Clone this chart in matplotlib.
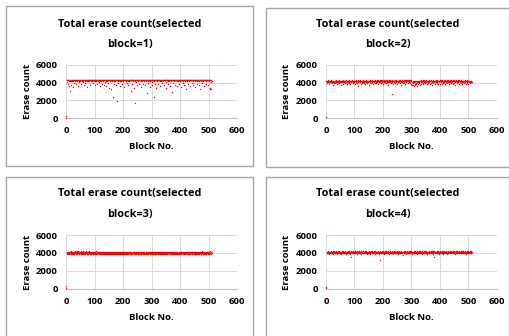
import matplotlib
matplotlib.use("Agg")
import matplotlib.pyplot as plt
from matplotlib.patches import Rectangle

plt.rcParams["font.family"] = ["Open Sans", "DejaVu Sans"]
plt.rcParams["font.weight"] = "bold"

# erase count per block (blocks 0..511)
erase_block1 = [
    40, 180, 4260, 4310, 4120, 4280, 3900, 4300, 4250, 4190, 4290, 3650, 4270, 4310, 3050, 4240,
    4300, 4180, 3720, 4260, 4290, 4230, 4310, 3480, 4270, 4200, 4300, 4260, 3950, 4280, 4320, 4150,
    4290, 4240, 4300, 3820, 4270, 4310, 4220, 4280, 4190, 4300, 3600, 4260, 4320, 4240, 4290, 4100,
    4270, 4310, 4230, 3880, 4300, 4260, 4290, 4180, 4320, 4250, 4030, 4280, 4300, 4210, 3700, 4290,
    4260, 4310, 4240, 4290, 3960, 4300, 4270, 4330, 4200, 4280, 4310, 3550, 4260, 4300, 4230, 4290,
    4320, 4180, 4270, 4300, 4250, 3790, 4310, 4280, 4220, 4290, 4300, 4140, 4270, 4320, 3920, 4260,
    4300, 4240, 4290, 4310, 3680, 4270, 4230, 4300, 4280, 4160, 4310, 4250, 4290, 3850, 4300, 4270,
    4220, 4310, 4280, 4050, 4300, 4260, 4290, 3580, 4320, 4240, 4270, 4300, 4190, 4280, 3900, 4310,
    4250, 4290, 4300, 4230, 3760, 4280, 4310, 4260, 4300, 4120, 4270, 4290, 3640, 4310, 4240, 4280,
    4300, 4210, 4290, 4320, 3990, 4260, 4300, 4280, 3450, 4270, 4310, 4240, 4290, 3300, 4300, 4260,
    4280, 4310, 4170, 4290, 4250, 2400, 4300, 4270, 3870, 4310, 4240, 4290, 4300, 4200, 3700, 4280,
    4310, 4260, 4290, 1900, 4300, 4230, 4280, 4310, 3950, 4270, 4300, 4250, 4290, 4140, 4310, 3600,
    4270, 4300, 4240, 4290, 4310, 3820, 4260, 4300, 4280, 4220, 4310, 4290, 3520, 4270, 4300, 4250,
    4290, 4310, 4180, 4280, 4300, 3930, 4260, 4310, 4240, 4290, 4300, 3680, 4270, 4320, 4230, 4290,
    4300, 4260, 4310, 4280, 3100, 4290, 4250, 4300, 3800, 4270, 4310, 4220, 4290, 4300, 3400, 4260,
    4310, 4280, 4240, 1650, 4300, 4270, 4290, 4110, 4310, 3750, 4260, 4300, 4280, 4230, 4290, 4310,
    3900, 4270, 4300, 4250, 4290, 4310, 3560, 4280, 4240, 4300, 4270, 4190, 4310, 4290, 3840, 4260,
    4300, 4280, 4230, 4310, 4290, 3700, 4270, 4300, 4250, 4310, 4160, 4290, 2850, 4280, 4300, 4240,
    4310, 3960, 4270, 4290, 4300, 4220, 4310, 3500, 4280, 4260, 4300, 4290, 4130, 4310, 4250, 3780,
    4290, 4300, 4270, 4310, 2400, 4240, 4290, 4300, 3900, 4280, 4310, 4260, 4300, 3350, 4270, 4290,
    4310, 4230, 4300, 4280, 3860, 4290, 4310, 4250, 4300, 4170, 4270, 3620, 4310, 4290, 4240, 4300,
    4280, 4310, 3940, 4260, 4300, 4290, 4220, 4310, 3700, 4270, 4300, 4250, 4290, 4310, 4100, 4280,
    3450, 4300, 4260, 4310, 4290, 4240, 3830, 4300, 4280, 4310, 4200, 4270, 4290, 3580, 4300, 4260,
    4310, 4280, 4240, 4300, 3000, 4290, 4310, 4260, 3920, 4300, 4270, 4230, 4290, 4310, 3760, 4280,
    4300, 4250, 4290, 4310, 4180, 4270, 3640, 4300, 4280, 4310, 4240, 4290, 3880, 4300, 4260, 4310,
    4280, 4220, 4300, 3530, 4290, 4310, 4250, 4270, 4300, 3970, 4280, 4310, 4240, 4290, 3700, 4300,
    4260, 4310, 4290, 4150, 4300, 3300, 4270, 4310, 4240, 4290, 4300, 3850, 4280, 4310, 4260, 4300,
    4230, 4290, 3620, 4310, 4270, 4300, 4250, 4290, 4310, 3940, 4280, 4300, 4200, 4310, 4260, 3760,
    4290, 4300, 4310, 4240, 4280, 3500, 4300, 4270, 4310, 4290, 4160, 4300, 3880, 4260, 4310, 4280,
    4300, 4240, 4290, 3680, 4310, 4270, 3300, 4300, 4250, 4290, 4310, 4210, 4280, 3920, 4300, 4260,
    4310, 4290, 4230, 4300, 3580, 4280, 4310, 4260, 4290, 4300, 4140, 3820, 4310, 4270, 4300, 4250,
    4290, 4310, 3700, 4280, 4300, 4240, 4310, 4200, 3300, 4290, 4270, 3350, 3300, 4100, 4260, 4180,
]

erase_block2 = [
    80, 4150, 4230, 4080, 4190, 3950, 4260, 4120, 4180, 4050, 4210, 4140, 3880, 4240, 4100, 4170,
    4220, 4020, 4160, 4250, 3920, 4130, 4200, 4090, 4180, 3700, 4240, 4110, 4160, 4010, 4230, 4150,
    3980, 4190, 4080, 4260, 4140, 4200, 3850, 4170, 4120, 4230, 4060, 4180, 3940, 4250, 4100, 4160,
    4210, 4030, 4170, 3750, 4240, 4130, 4190, 4070, 4220, 4150, 3900, 4200, 4110, 4260, 4040, 4180,
    4140, 4230, 3960, 4160, 4200, 4090, 4250, 4120, 3820, 4190, 4170, 4060, 4240, 4130, 4210, 3990,
    4180, 4100, 4260, 4150, 3870, 4220, 4080, 4200, 4160, 4030, 4250, 4140, 4190, 3930, 4230, 4120,
    4170, 4210, 4050, 4240, 4110, 3800, 4190, 4150, 4260, 4070, 4200, 4130, 3960, 4220, 4180, 4090,
    4250, 4140, 3620, 4200, 4160, 4230, 4020, 4180, 4120, 4260, 3890, 4150, 4210, 4080, 4240, 4170,
    4010, 4190, 4130, 4250, 3940, 4170, 4220, 4100, 4200, 4150, 3840, 4230, 4060, 4180, 4260, 4120,
    4200, 3970, 4160, 4240, 4090, 4210, 4140, 3760, 4190, 4250, 4110, 4170, 4040, 4230, 4150, 3910,
    4220, 4130, 4260, 4080, 4180, 4200, 3860, 4160, 4240, 4120, 4210, 4000, 4190, 4270, 4140, 4100,
    4230, 3950, 4170, 4250, 4110, 4200, 4150, 4280, 3880, 4190, 4240, 4060, 4220, 4160, 4300, 4130,
    4180, 4260, 3990, 4210, 4140, 4280, 4090, 4230, 3830, 4170, 4250, 4120, 4200, 4270, 4050, 4190,
    4240, 4150, 4290, 3920, 4200, 4130, 4260, 4180, 4070, 4230, 3780, 4160, 4210, 4270, 4110, 4190,
    4250, 4040, 4200, 4140, 3960, 4230, 2700, 4170, 4260, 4100, 4190, 3870, 4240, 4150, 4210, 4080,
    4180, 4250, 3930, 4160, 4220, 4120, 4270, 4060, 4200, 3810, 4150, 4240, 4190, 4030, 4230, 4170,
    4110, 4260, 3960, 4200, 4140, 4250, 4080, 4190, 3700, 4230, 4160, 4270, 4120, 4210, 3940, 4180,
    4250, 4090, 4220, 4150, 4280, 3860, 4190, 4240, 4130, 4260, 4020, 4200, 4170, 4290, 3910, 4230,
    4160, 4270, 4100, 4220, 4300, 3980, 4190, 4250, 4140, 4280, 3850, 4210, 4170, 3680, 4060, 3760,
    4120, 3720, 4180, 3950, 4050, 3650, 4140, 3800, 4090, 4200, 3700, 4010, 4160, 3880, 4110, 3640,
    4170, 4040, 4210, 3820, 4130, 4230, 3960, 4180, 4090, 4240, 3780, 4150, 4200, 4020, 4250, 3900,
    4190, 4110, 4230, 3990, 4160, 4260, 3850, 4200, 4130, 4250, 4070, 4180, 3930, 4220, 4150, 4270,
    4040, 4200, 3800, 4170, 4240, 4120, 4210, 3950, 4260, 4150, 4080, 4230, 3870, 4190, 4140, 4250,
    4010, 4220, 4170, 3760, 4240, 4100, 4200, 4160, 3920, 4250, 4130, 4210, 4060, 4190, 3830, 4230,
    4150, 4270, 4080, 4200, 3970, 4180, 4250, 4120, 4220, 3860, 4160, 4240, 4030, 4210, 4170, 4280,
    3900, 4190, 4140, 4260, 4090, 4230, 3800, 4170, 4250, 4110, 4200, 3950, 4240, 4150, 4290, 4060,
    4210, 4180, 3880, 4260, 4130, 4230, 4020, 4190, 4300, 3940, 4170, 4250, 4100, 4220, 4160, 3830,
    4240, 4120, 4280, 4050, 4200, 4170, 3910, 4260, 4140, 4230, 4080, 4190, 4300, 3860, 4210, 4150,
    4270, 3990, 4180, 4240, 4110, 4220, 3780, 4200, 4160, 4290, 4040, 4230, 4130, 3920, 4250, 4170,
    4090, 4210, 4260, 3850, 4190, 4140, 4240, 4020, 4200, 4170, 3960, 4250, 4110, 4230, 3800, 4180,
    4220, 4060, 4160, 4240, 3930, 4200, 4130, 4270, 4080, 4190, 3870, 4230, 4150, 4210, 4010, 4250,
    4120, 4180, 3900, 4230, 4150, 4060, 4200, 4170, 3960, 4240, 4110, 4190, 4030, 4220, 4140, 4080,
]

erase_block3 = [
    60, 280, 4050, 3930, 4120, 3980, 4080, 3870, 4150, 4010, 3950, 4100, 3900, 4060, 4130, 3990,
    4070, 3920, 4180, 4030, 3960, 4110, 3880, 4090, 4160, 4000, 3940, 4140, 4050, 3860, 4120, 3970,
    4200, 4080, 3910, 4150, 4020, 3990, 4170, 3890, 4100, 4060, 3950, 4190, 4030, 3920, 4130, 4070,
    3980, 4160, 4040, 3900, 4110, 4180, 3960, 4090, 4020, 3870, 4140, 4050, 3940, 4200, 4010, 3930,
    4120, 4070, 3890, 4150, 4000, 4090, 3950, 4170, 4030, 3910, 4100, 3980, 4140, 4060, 3870, 4110,
    4040, 3960, 4180, 4020, 3920, 4130, 4070, 3990, 4160, 3900, 4080, 4010, 3950, 4120, 4050, 3880,
    4100, 4030, 3940, 4150, 3990, 4070, 3860, 4110, 4040, 3970, 4170, 3910, 4060, 4000, 3930, 4130,
    3960, 4080, 4020, 3880, 4120, 4050, 3950, 4140, 3990, 3900, 4090, 4030, 3870, 4110, 4000, 3940,
    4070, 3920, 4130, 3980, 4040, 3890, 4100, 4010, 3950, 4150, 3930, 4060, 3870, 4020, 4120, 3960,
    4080, 3900, 4030, 4140, 3970, 3880, 4090, 4010, 3940, 4110, 3860, 4050, 4000, 3920, 4130, 3990,
    4040, 3950, 4100, 3870, 4070, 4020, 3930, 4120, 3980, 3890, 4060, 4000, 3940, 4150, 3910, 4030,
    3970, 4090, 3880, 4050, 4130, 3960, 4010, 3900, 4080, 4040, 3920, 4110, 3990, 3870, 4060, 4020,
    3940, 4140, 4000, 3910, 4070, 3980, 4100, 3860, 4030, 4120, 3950, 4050, 3890, 4090, 4010, 3930,
    4130, 3970, 4040, 3880, 4080, 4020, 3920, 4110, 3990, 4060, 3900, 4150, 4000, 3950, 4070, 3870,
    4030, 4100, 3940, 4010, 3890, 4120, 3960, 4050, 4000, 3910, 4140, 3980, 4080, 3930, 4020, 3860,
    4090, 4040, 3920, 4130, 3970, 4060, 3880, 4100, 4010, 3950, 4070, 3900, 4150, 3990, 4030, 3940,
    4110, 3870, 4050, 4000, 3930, 4120, 3980, 4080, 3890, 4040, 4140, 3960, 4020, 3910, 4090, 4010,
    3950, 4060, 3880, 4130, 3990, 4030, 3920, 4100, 4050, 3870, 4080, 3970, 4150, 3940, 4000, 4110,
    3900, 4070, 4020, 3960, 4120, 3890, 4040, 3980, 4090, 3930, 4010, 4140, 3870, 4060, 3950, 4100,
    4000, 3910, 4130, 4030, 3940, 4080, 3880, 4050, 3990, 4110, 3920, 4070, 3970, 3860, 4120, 4010,
    3960, 4090, 3900, 4040, 4150, 3930, 4060, 3980, 4000, 3890, 4100, 4030, 3950, 4130, 3910, 4070,
    4020, 3870, 4110, 3970, 4050, 3940, 4140, 4000, 3900, 4080, 3990, 4120, 3880, 4040, 3960, 4090,
    3930, 4150, 4010, 3890, 4070, 4030, 3950, 4100, 3870, 4060, 4000, 3920, 4130, 3980, 4050, 3910,
    4120, 3990, 4040, 3880, 4090, 3960, 4020, 4140, 3900, 4070, 3940, 4110, 4010, 3870, 4060, 4000,
    3950, 4100, 3920, 4030, 4150, 3980, 4080, 3890, 4050, 4010, 3930, 4130, 3970, 4070, 3900, 4040,
    4090, 3940, 4120, 4000, 3880, 4060, 4020, 3960, 4140, 3910, 4080, 3990, 4030, 3870, 4110, 4050,
    3970, 4130, 3900, 4040, 4090, 3950, 4010, 4150, 3920, 4070, 3980, 4100, 3890, 4060, 4020, 3940,
    4110, 4000, 3930, 4080, 3870, 4140, 4030, 3960, 4050, 3910, 4120, 3990, 4070, 3950, 4020, 4160,
    3900, 4060, 4010, 3940, 4130, 3980, 4090, 3880, 4040, 4150, 3920, 4070, 4000, 3970, 4110, 3890,
    4050, 3960, 4140, 4020, 3910, 4080, 3990, 4120, 3930, 4060, 4030, 3870, 4100, 3950, 4170, 4010,
    3940, 4090, 4040, 3900, 4130, 3980, 4070, 3920, 4160, 4000, 3960, 4110, 3890, 4050, 4140, 3970,
    4080, 4020, 3930, 4150, 3990, 4060, 3910, 4120, 4030, 3950, 4180, 4000, 4070, 3940, 4100, 4040,
]

erase_block4 = [
    100, 250, 4110, 4020, 4150, 3960, 4080, 4190, 4040, 3990, 4130, 4070, 3920, 4160, 4010, 4100,
    4050, 4180, 3950, 4090, 4140, 4030, 3980, 4200, 4060, 4110, 3930, 4170, 4000, 4120, 4080, 3970,
    4150, 4040, 4190, 3990, 4100, 4060, 3940, 4130, 4020, 4180, 4070, 3960, 4140, 4090, 4010, 4200,
    3980, 4120, 4050, 4160, 3930, 4080, 4030, 4170, 4110, 3990, 4060, 4150, 4000, 4190, 3950, 4100,
    4070, 4140, 4010, 3970, 4180, 4050, 4120, 3940, 4090, 4160, 4030, 4080, 3990, 4130, 4200, 4040,
    3960, 4110, 4170, 4020, 4070, 3930, 4150, 3600, 4100, 4190, 4000, 4060, 4140, 3980, 4120, 4030,
    4180, 4090, 3950, 4130, 4050, 4200, 4010, 4160, 3970, 4080, 4120, 4040, 4190, 3940, 4100, 4060,
    4020, 4150, 4080, 3990, 4170, 4110, 3960, 4030, 4140, 4070, 4200, 3930, 4090, 4160, 4000, 4120,
    4060, 3980, 4190, 4040, 4100, 4150, 3950, 4080, 4010, 4170, 4120, 3970, 4050, 4180, 4090, 3940,
    4130, 4030, 4160, 3990, 4070, 4110, 4200, 3960, 4140, 4020, 4090, 4150, 3930, 4060, 4180, 4100,
    4000, 4120, 4050, 4190, 3950, 4080, 4140, 4030, 3980, 4170, 4100, 4060, 4200, 3940, 4110, 4040,
    4160, 3990, 4090, 4130, 4020, 4180, 3960, 4070, 4150, 4010, 4110, 3930, 4190, 4050, 3200, 4080,
    4120, 3970, 4040, 4170, 4100, 3950, 4160, 4030, 4080, 4190, 3990, 4140, 4060, 3920, 4110, 4180,
    4010, 4150, 4070, 3980, 4200, 4040, 4120, 3960, 4090, 4170, 4030, 4130, 3940, 4100, 4060, 4190,
    3990, 4140, 4080, 4020, 4160, 3950, 4110, 4050, 4180, 4000, 4130, 4070, 3930, 4190, 4040, 4100,
    4150, 3970, 4060, 4200, 4010, 4120, 4090, 3960, 4170, 4030, 4140, 3990, 4080, 4160, 3940, 4110,
    4050, 4180, 4020, 4130, 3980, 4100, 4190, 4040, 4070, 3950, 4160, 4120, 4000, 3780, 4140, 4080,
    4030, 4170, 3960, 4110, 4090, 4200, 3990, 4150, 4060, 4130, 3930, 4190, 4020, 4100, 4160, 4050,
    3970, 4120, 4180, 4040, 4080, 3950, 4140, 4010, 4170, 4100, 3990, 4060, 4200, 3940, 4130, 4070,
    4110, 4020, 4160, 3980, 4190, 4050, 4090, 4140, 3960, 4030, 4180, 4120, 4000, 4150, 3930, 4080,
    4170, 4040, 3990, 4130, 4070, 4200, 3950, 4100, 4160, 4010, 4060, 4190, 3970, 4120, 4080, 4140,
    3940, 4090, 4180, 4030, 4150, 3980, 4110, 4060, 4200, 4000, 4130, 3960, 4170, 4050, 4100, 4020,
    4190, 3930, 4080, 4140, 4010, 4160, 4070, 3990, 4120, 4180, 4040, 3950, 4100, 4150, 4030, 4200,
    3970, 4110, 4060, 4190, 4000, 4130, 4080, 3940, 4170, 4050, 4150, 4210, 3600, 4120, 4020, 4160,
    4090, 3980, 4140, 4070, 4200, 3950, 4110, 4030, 4180, 4100, 3990, 4160, 4050, 4130, 3930, 4080,
    4190, 4040, 4120, 3970, 4150, 4060, 4010, 4180, 4090, 3940, 4140, 4200, 4020, 4100, 4170, 3990,
    4070, 4130, 3960, 4160, 4050, 4110, 4190, 4000, 4080, 4140, 3930, 4170, 4040, 4120, 4060, 3980,
    4150, 4020, 4190, 4090, 3950, 4130, 4070, 4180, 4010, 4100, 4160, 3970, 4050, 4200, 4030, 4120,
    3990, 4170, 4060, 4140, 4080, 3940, 4110, 4190, 4030, 4150, 4000, 4090, 4180, 3960, 4130, 4070,
    4100, 4050, 4200, 3980, 4120, 4160, 4020, 4080, 3950, 4170, 4110, 4040, 4190, 4000, 4140, 4060,
    4180, 3970, 4090, 4150, 4030, 4130, 4190, 3990, 4070, 4160, 4010, 4120, 3940, 4100, 4170, 4050,
    4080, 4140, 4000, 4190, 4060, 3960, 4150, 4110, 4020, 4180, 4090, 3980, 4130, 4050, 4170, 4100,
]

panels = [erase_block1, erase_block2, erase_block3, erase_block4]
titles = ["block=1)", "block=2)", "block=3)", "block=4)"]
x_ticks = [0, 100, 200, 300, 400, 500, 600]
y_ticks = [0, 2000, 4000, 6000]

W, H = 510, 336
fig = plt.figure(figsize=(W / 100, H / 100), dpi=100)

# panel frames (px: left, top, right, bottom) and plot areas (px)
frames = [(6, 6, 253, 166), (266, 8, 509, 167), (6, 177, 253, 340), (266, 177, 509, 340)]
areas = [(66, 65, 237, 118), (326, 65, 497, 118), (66, 235, 237, 289), (326, 235, 497, 289)]
title_y = [(25, 44), (24, 45), (194, 215), (194, 215)]

for i, vals in enumerate(panels):
    l, t, r, b = frames[i]
    fig.patches.append(Rectangle((l / W, 1 - b / H), (r - l) / W, (b - t) / H,
                                 transform=fig.transFigure, fill=False,
                                 edgecolor="#a6a6a6", lw=1.0))
    cx = (l + r) / 2 / W
    fig.text(cx, 1 - title_y[i][0] / H, "Total erase count(selected",
             ha="center", va="center", fontsize=7.8, fontweight="bold")
    fig.text(cx, 1 - title_y[i][1] / H, titles[i],
             ha="center", va="center", fontsize=7.8, fontweight="bold")

    al, at, ar, ab = areas[i]
    ax = fig.add_axes([al / W, 1 - ab / H, (ar - al) / W, (ab - at) / H])
    ax.scatter(range(len(vals)), vals, s=1.0, marker="o", color="#ff0000",
               linewidths=0, clip_on=False, zorder=3)
    ax.set_xlim(0, 600)
    ax.set_ylim(0, 6000)
    ax.set_xticks(x_ticks)
    ax.set_yticks(y_ticks)
    ax.grid(True, color="#d9d9d9", lw=0.7)
    ax.set_axisbelow(True)
    for side in ["top", "right", "left"]:
        ax.spines[side].set_visible(False)
    ax.spines["bottom"].set_color("#bfbfbf")
    ax.spines["bottom"].set_linewidth(0.8)
    ax.tick_params(length=0, labelsize=6.8, pad=6)
    for lab in ax.get_xticklabels() + ax.get_yticklabels():
        lab.set_fontweight("bold")
    ax.set_xlabel("Block No.", fontsize=6.8, fontweight="bold", labelpad=5)
    ax.set_ylabel("Erase count", fontsize=6.8, fontweight="bold", labelpad=3)

fig.savefig("out.png", dpi=100)
